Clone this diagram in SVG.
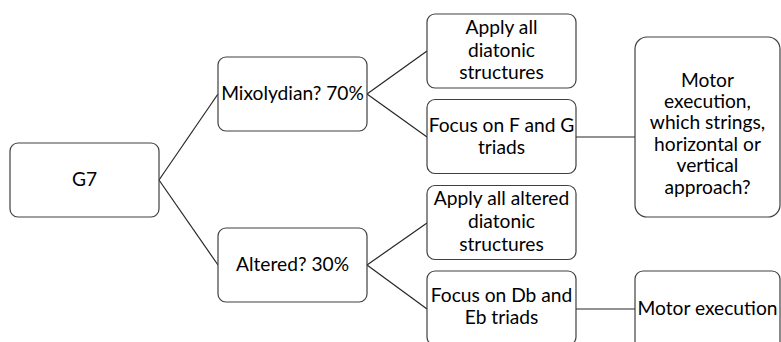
<svg xmlns="http://www.w3.org/2000/svg" width="781" height="342" viewBox="0 0 781 342">
  <style>
    .box { fill: #ffffff; stroke: #404040; stroke-width: 1.2; }
    .lbl { font-family: Lato, "Liberation Sans", sans-serif; font-size: 19.2px; fill: #000000; text-anchor: middle; }
    .edge { fill: none; stroke: #262626; stroke-width: 1.2; }
  </style>
  <rect width="781" height="342" fill="#ffffff"/>

  <!-- connectors -->
  <g id="connectors">
    <path class="edge" d="M159,180 L218,94"/>
    <path class="edge" d="M159,180 L218,265"/>
    <path class="edge" d="M367,94 L427,51"/>
    <path class="edge" d="M367,94 L427,137"/>
    <path class="edge" d="M367,265 L427,223"/>
    <path class="edge" d="M367,265 L427,309"/>
    <path class="edge" d="M576,137 L635,137"/>
    <path class="edge" d="M576,309 L635,309"/>
  </g>

  <g id="g7">
    <rect class="box" x="10" y="143" width="149" height="74" rx="8"/>
    <text class="lbl" x="84.5" y="186">G7</text>
  </g>

  <g id="mixolydian">
    <rect class="box" x="218" y="57" width="149" height="74" rx="8"/>
    <text class="lbl" x="292.5" y="100">Mixolydian? 70%</text>
  </g>

  <g id="altered">
    <rect class="box" x="218" y="228" width="149" height="74" rx="8"/>
    <text class="lbl" x="292.5" y="271">Altered? 30%</text>
  </g>

  <g id="diatonic">
    <rect class="box" x="427" y="14" width="149" height="74" rx="8"/>
    <text class="lbl" x="501.5" y="34">Apply all</text>
    <text class="lbl" x="501.5" y="56.5">diatonic</text>
    <text class="lbl" x="501.5" y="79">structures</text>
  </g>

  <g id="fg-triads">
    <rect class="box" x="427" y="99.5" width="149" height="74" rx="8"/>
    <text class="lbl" x="501.5" y="131.5">Focus on F and G</text>
    <text class="lbl" x="501.5" y="154">triads</text>
  </g>

  <g id="altered-diatonic">
    <rect class="box" x="427" y="185.5" width="149" height="74" rx="8"/>
    <text class="lbl" x="501.5" y="205">Apply all altered</text>
    <text class="lbl" x="501.5" y="228">diatonic</text>
    <text class="lbl" x="501.5" y="251">structures</text>
  </g>

  <g id="dbeb-triads">
    <rect class="box" x="427" y="271" width="149" height="74" rx="8"/>
    <text class="lbl" x="501.5" y="301.5">Focus on Db and</text>
    <text class="lbl" x="501.5" y="324">Eb triads</text>
  </g>

  <g id="motor-approach">
    <rect class="box" x="635" y="37" width="145" height="180" rx="12"/>
    <text class="lbl" x="707.5" y="86.5">Motor</text>
    <text class="lbl" x="707.5" y="107.5">execution,</text>
    <text class="lbl" x="707.5" y="129">which strings,</text>
    <text class="lbl" x="707.5" y="150.5">horizontal or</text>
    <text class="lbl" x="707.5" y="172">vertical</text>
    <text class="lbl" x="707.5" y="193.5">approach?</text>
  </g>

  <g id="motor-execution">
    <rect class="box" x="635" y="271" width="145" height="80" rx="8"/>
    <text class="lbl" x="707.5" y="315">Motor execution</text>
  </g>
</svg>
